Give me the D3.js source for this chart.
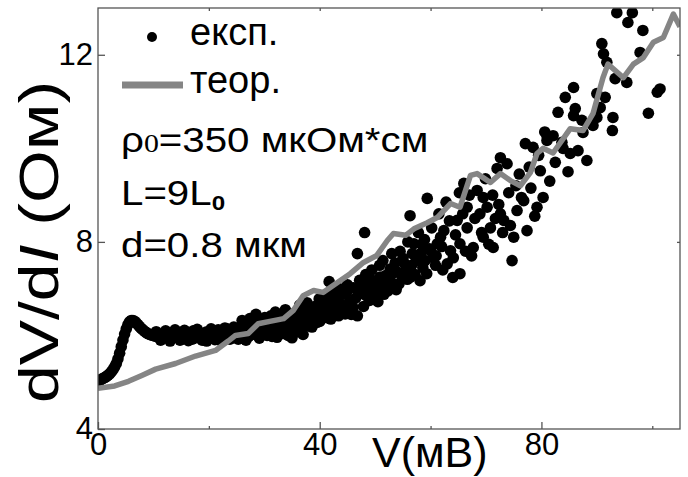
<!DOCTYPE html>
<html>
<head>
<meta charset="utf-8">
<script src="https://cdn.jsdelivr.net/npm/d3@7"></script>
<style>
  body { margin: 0; background: #fff; }
  svg { display: block; }
  text { font-family: "Liberation Sans", Arial, sans-serif; fill: #000; }
</style>
</head>
<body>
<div id="chart"></div>
<script>
// theory curve
const theoV = [0, 3, 5.5, 8, 10.4, 14, 17.6, 21.2, 23.5, 24.8, 27.1, 28.9, 31, 33.5, 35.2, 37, 38.9, 40.6,
  43.2, 45.5, 47.9, 50.3, 52.2, 53.3, 55.5, 57, 59.4, 61.2, 63.6, 65.3, 67.2, 68.4, 70.8, 72.6, 74.4, 76.2,
  78, 79.2, 80.3, 82.1, 85.2, 87.5, 89.3, 91.1, 92, 94.8, 96.6, 98.4, 100.2, 102, 103.8, 105];
const theoR = [4.87, 4.92, 5.02, 5.15, 5.28, 5.40, 5.56, 5.68, 5.88, 6.0, 6.04, 6.25, 6.3, 6.36, 6.53, 6.85, 6.96, 6.92,
  7.13, 7.32, 7.56, 7.71, 8.03, 8.18, 8.14, 8.28, 8.41, 8.52, 8.82, 8.74, 9.42, 9.46, 9.27, 9.46, 9.31, 9.2,
  9.48, 9.89, 10.0, 9.9, 10.42, 10.38, 10.74, 11.51, 11.8, 11.51, 11.8, 11.94, 12.27, 12.37, 12.87, 12.6];

// experimental points (V in mV, dV/dI in Ohm)
const expV = [
  0, 0.3, 0.6, 0.9, 1.2, 1.5, 1.8, 2.1, 2.4, 2.7, 3.0, 3.3, 3.6, 3.9, 4.2, 4.5, 4.8, 5.1, 5.4, 5.7,
  6.0, 6.3, 6.6, 6.9, 7.2, 7.5, 7.8, 8.1, 8.4, 8.7, 9.0, 9.3, 9.6, 9.9, 10.2, 10.5, 10.8, 11.1, 11.5,
  12.0, 12.4, 12.7, 13.1, 13.5, 13.8, 14.2, 14.6, 15.0, 15.3, 15.7, 16.1, 16.5, 16.8, 17.2, 17.6, 18.0,
  18.3, 18.7, 19.1, 19.5, 19.8, 20.2, 20.6, 21.0, 21.3, 21.7, 22.1, 22.5, 22.8, 23.2, 23.6, 24.0, 24.3,
  24.7, 25.1, 25.5,
  10.5, 11.3, 12.2, 13.0, 13.9, 14.8, 15.6, 16.3, 17.0, 17.9, 18.8, 19.6, 20.4, 21.1, 22.0, 22.9, 23.8,
  24.5, 25.3, 26.0, 26.7, 27.4,
  25.8, 26.2, 26.5, 26.9, 27.2, 27.6, 28.0, 28.3, 28.7, 29.1, 29.4, 29.8, 30.1, 30.5, 30.8, 31.2, 31.6,
  31.9, 32.3, 32.6, 33.0, 33.4, 33.7, 34.1, 34.5, 34.8, 35.2, 35.0, 37.0,
  28.5, 29.6, 30.3, 31.4, 32.0, 32.9, 33.8, 34.3, 35.6, 36.4, 37.1, 37.9, 38.6, 39.3, 40.0, 40.8, 41.5,
  42.0, 42.6, 43.4, 44.0, 44.8, 45.2,
  35.5, 35.9, 36.2, 36.6, 36.9, 37.3, 37.7, 38.0, 38.4, 38.8, 39.1, 39.5, 39.9, 40.2, 40.6, 41.0, 41.3,
  41.7, 42.1, 42.4, 42.8, 43.2, 43.5, 43.9, 44.3, 44.6, 45.0, 45.4,
  45.7, 46.1, 46.5, 46.8, 47.2, 47.6, 47.9, 48.3, 48.6, 49.0, 49.4, 49.7, 50.1, 50.5, 50.8, 51.2, 51.6,
  51.9, 52.3, 52.7, 53.0, 53.4, 53.8, 54.1, 54.5, 54.9, 55.2, 46.8, 48.1,
  46.0, 46.9, 47.8, 48.4, 49.2, 50.0, 50.9, 51.4, 52.0, 52.9, 53.6, 54.3, 55.0, 55.8, 56.6, 57.2, 58.4,
  59.0, 60.0, 61.0, 62.0,
  55.6, 55.9, 56.3, 56.3, 56.7, 57.0, 57.4, 57.8, 58.1, 58.2, 58.6, 58.9, 59.3, 59.4, 59.8, 60.2, 60.5,
  60.9, 61.2, 61.5, 61.8, 62.2, 62.4, 62.8, 63.0, 63.4, 63.6, 64.0, 64.1, 64.5, 64.8, 65.2, 65.3, 65.3,
  65.8, 66.0, 66.3, 66.6, 66.6, 67.0, 67.4, 67.7, 68.0, 68.4, 68.9, 69.2, 69.5, 69.5, 69.9, 70.2, 70.5,
  70.8, 71.2, 71.3, 71.7, 72.0, 72.3, 72.6, 72.6, 73.0, 73.2, 73.8, 74.1, 74.4, 74.7, 75.0, 75.4,
  75.6, 76.0, 76.4, 76.8, 77.1, 77.4, 77.8, 78.1, 78.5, 78.8, 79.2, 79.5, 79.8, 80.3, 80.6, 81.0, 81.0,
  81.5, 82.1, 82.5, 83.0, 83.7, 83.9, 84.3, 84.8, 85.2, 85.8, 85.8,
  86.1, 86.6, 87.3, 87.5, 88.2, 89.3, 90.0, 90.0, 90.6, 90.9, 91.2, 91.5, 91.8, 92.8, 92.9, 93.3, 93.6,
  95.4, 95.6, 96.4, 97.8, 98.3, 99.3, 100.9, 101.4];
const expR = [
  5.02, 5.04, 5.06, 5.08, 5.10, 5.12, 5.15, 5.18, 5.22, 5.27, 5.33, 5.40, 5.50, 5.62, 5.76, 5.90, 6.03, 6.14, 6.23, 6.29,
  6.32, 6.32, 6.30, 6.27, 6.23, 6.19, 6.15, 6.12, 6.09, 6.06, 6.04, 6.02, 6.01, 6.00, 5.99, 5.98, 5.97, 5.98, 6.01,
  5.97, 6.02, 5.95, 5.99, 6.05, 5.96, 6.08, 5.98, 5.94, 6.03, 5.97, 6.00, 5.93, 6.06, 6.10, 5.98, 5.95,
  6.04, 6.00, 5.96, 6.07, 6.02, 5.97, 6.09, 6.01, 5.99, 6.12, 6.03, 5.98, 6.06, 6.14, 6.01, 6.05, 6.10,
  5.99, 6.07, 6.15,
  6.08, 5.90, 6.10, 5.88, 6.12, 5.90, 6.11, 5.89, 5.92, 6.13, 5.90, 5.88, 6.14, 5.91, 5.90, 6.16, 5.92,
  6.18, 5.92, 6.32, 5.90, 6.36,
  5.95, 6.20, 6.05, 6.28, 5.98, 6.12, 6.34, 6.02, 6.18, 5.94, 6.26, 6.10, 6.38, 6.00, 6.22, 6.42, 6.08,
  6.30, 5.96, 6.16, 6.44, 6.04, 6.24, 6.12, 6.36, 5.98, 6.20, 5.95, 6.02,
  6.45, 6.02, 6.15, 5.98, 6.50, 6.28, 6.55, 6.00, 6.25, 6.65, 6.38, 6.55, 6.18, 6.45, 6.30, 6.70, 6.55,
  6.35, 6.75, 6.42, 6.65, 6.90, 6.55,
  6.48, 6.08, 6.30, 6.58, 6.15, 6.40, 6.70, 6.22, 6.50, 6.36, 6.62, 6.28, 6.78, 6.45, 6.55, 6.85, 6.38,
  7.15, 6.65, 6.92, 6.50, 6.78, 7.00, 6.60, 6.88, 6.46, 7.08, 6.72,
  6.45, 7.02, 6.80, 6.42, 7.18, 6.90, 6.62, 7.30, 7.05, 6.75, 7.40, 6.98, 7.15, 6.72, 7.50, 7.05, 6.88,
  7.28, 6.95, 7.42, 7.75, 7.10, 6.98, 7.35, 7.80, 7.22, 7.55, 7.75, 8.20,
  6.60, 6.95, 7.10, 6.85, 7.20, 6.90, 7.25, 7.60, 7.15, 7.30, 7.55, 7.10, 7.65, 7.20, 7.50, 7.30, 7.95,
  7.60, 7.81, 7.70, 7.90,
  7.40, 8.00, 7.24, 8.56, 7.75, 7.96, 7.60, 8.20, 7.17, 7.75, 7.45, 8.05, 7.32, 8.93, 7.85, 8.30, 7.66,
  7.50, 7.96, 8.60, 8.10, 7.40, 8.24, 8.85, 7.53, 8.45, 7.81, 7.24, 7.66, 8.15, 8.46, 9.05, 7.96, 7.32,
  8.60, 9.25, 7.80, 8.30, 8.74, 9.00, 7.70, 7.88, 8.50, 9.10, 8.60, 8.20, 8.10, 8.95, 9.35, 8.74, 7.95,
  8.30, 9.00, 7.88, 8.50, 9.57, 8.80, 8.60, 9.80, 8.20, 8.46, 9.67, 9.05, 8.35, 7.60, 8.10, 9.20,
  8.67, 9.45, 8.95, 8.88, 10.10, 8.24, 9.60, 9.15, 10.02, 8.55, 8.74, 9.85, 9.52, 8.95, 10.35, 10.17, 10.27,
  9.30, 10.27, 9.70, 10.77, 10.13, 10.00, 11.09, 9.50, 9.89, 10.70, 11.30,
  10.85, 9.95, 10.60, 10.34, 9.74, 10.49, 10.66, 11.17, 10.87, 12.24, 12.02, 11.09, 11.84, 10.38, 10.66, 11.49, 12.90,
  11.41, 12.69, 12.90, 12.05, 12.52, 10.75, 11.20, 11.27];

const xMajor = [0, 40, 80];
const xMinor = [20, 60, 100];
const yMajor = [4, 8, 12];
const legendLabels = ["експ.", "теор."];

const W = 688, H = 477;
const margin = {top: 8, right: 8, bottom: 48, left: 98};
const width = W - margin.left - margin.right;
const height = H - margin.top - margin.bottom;

const svg = d3.select("#chart").append("svg")
    .attr("width", W)
    .attr("height", H);

const g = svg.append("g")
    .attr("transform", "translate(" + margin.left + "," + margin.top + ")");

const x = d3.scaleLinear().domain([0, 105]).range([0, width]);
const y = d3.scaleLinear().domain([4, 13]).range([height, 0]);

g.append("clipPath").attr("id", "plotclip")
  .append("rect").attr("width", width).attr("height", height);

const plot = g.append("g").attr("clip-path", "url(#plotclip)");

// scatter
const pts = expV.map((v, i) => ({v: v, r: expR[i]}));
plot.selectAll("circle.exp")
    .data(pts)
    .enter().append("circle")
    .attr("class", "exp")
    .attr("cx", d => x(d.v))
    .attr("cy", d => y(d.r))
    .attr("r", 5.8)
    .style("fill", "#000");

// theory line
const line = d3.line().x(d => x(d.v)).y(d => y(d.r));
plot.append("path")
    .datum(theoV.map((v, i) => ({v: v, r: theoR[i]})))
    .attr("d", line)
    .style("fill", "none")
    .style("stroke", "#858585")
    .style("stroke-width", 5.5)
    .style("stroke-linejoin", "round");

// axes (ticks pointing inward)
const axisColor = "#555";
function styleAxis(sel) {
    sel.select(".domain").remove();
    sel.selectAll(".tick line").style("stroke", axisColor).style("stroke-width", 1.3);
    sel.selectAll("text").style("font-size", "31px").style("font-family", "'Liberation Sans', Arial, sans-serif").style("fill", "#000");
}

g.append("g").attr("transform", "translate(0," + height + ")")
    .call(d3.axisBottom(x).tickValues(xMajor).tickSize(-7).tickPadding(4).tickFormat(d3.format("d")))
    .call(styleAxis);
g.append("g").attr("transform", "translate(0," + height + ")")
    .call(d3.axisBottom(x).tickValues(xMinor).tickSize(-3).tickFormat(""))
    .call(styleAxis);
g.append("g")
    .call(d3.axisLeft(y).tickValues(yMajor).tickSize(-7).tickPadding(5).tickFormat(d3.format("d")))
    .call(styleAxis);
g.append("g")
    .call(d3.axisTop(x).tickValues(xMinor.concat(xMajor.slice(1))).tickSize(-3).tickFormat(""))
    .call(styleAxis);
g.append("g").attr("transform", "translate(" + width + ",0)")
    .call(d3.axisRight(y).tickValues(yMajor.slice(1)).tickSize(-3).tickFormat(""))
    .call(styleAxis);

// frame
g.append("rect")
    .attr("width", width)
    .attr("height", height)
    .style("fill", "none")
    .style("stroke", axisColor)
    .style("stroke-width", 1.3);

// axis titles
svg.append("text")
    .attr("x", 372)
    .attr("y", 467)
    .style("font-size", "43px")
    .text("V(мВ)");

const yl = svg.append("text")
    .attr("transform", "translate(58,242) rotate(-90)")
    .attr("text-anchor", "middle")
    .attr("textLength", 322)
    .attr("lengthAdjust", "spacingAndGlyphs")
    .style("font-size", "55px");
yl.append("tspan").text("dV/d");
yl.append("tspan").style("font-style", "italic").text("I");
yl.append("tspan").text(" (Ом)");

// legend
svg.append("circle").attr("cx", 152).attr("cy", 37).attr("r", 5).style("fill", "#000");
svg.append("line")
    .attr("x1", 122).attr("x2", 183).attr("y1", 85).attr("y2", 85)
    .style("stroke", "#858585").style("stroke-width", 7);
svg.selectAll("text.leg")
    .data(legendLabels)
    .enter().append("text")
    .attr("class", "leg")
    .attr("x", 190)
    .attr("y", (d, i) => 45 + i * 48)
    .style("font-size", "38px")
    .text(d => d);

// parameters
const note = svg.append("g").attr("transform", "translate(121,0) scale(1.15,1)");
const t1 = note.append("text").attr("y", 152).style("font-size", "35px");
t1.append("tspan").text("ρ");
t1.append("tspan").style("font-family", "'Liberation Serif', serif").style("font-size", "26px").text("0");
t1.append("tspan").text("=350 мкОм*см");
const t2 = note.append("text").attr("y", 205).style("font-size", "35px");
t2.append("tspan").text("L=9L");
t2.append("tspan").attr("dy", 5).style("font-weight", "bold").style("font-size", "21px").text("0");
note.append("text").attr("y", 257).style("font-size", "35px").text("d=0.8 мкм");
</script>
</body>
</html>
